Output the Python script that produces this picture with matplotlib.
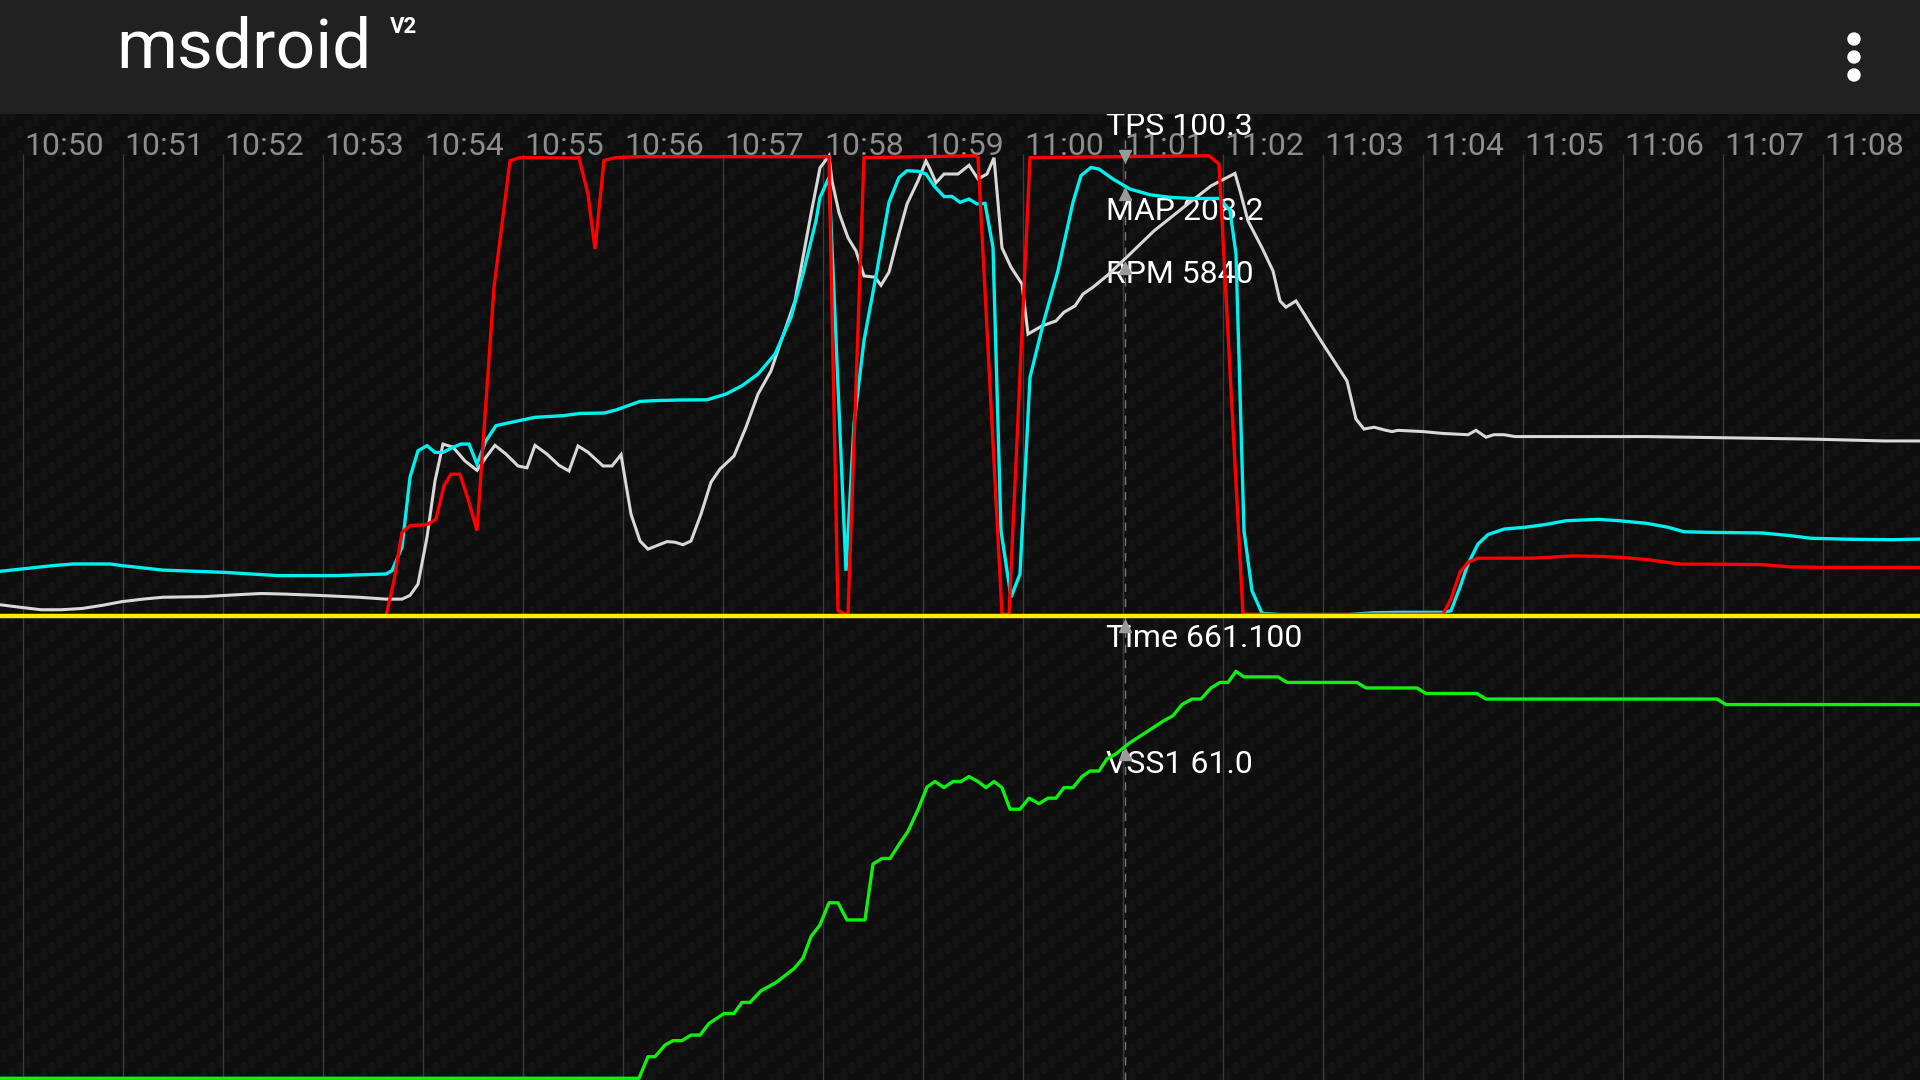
import numpy as np
import matplotlib.pyplot as plt
from matplotlib.patches import Circle

# visible time window (seconds into the log) and grid ticks
t_start, t_end = 649.77, 668.97
tick_secs = list(range(650, 669))
tick_labels = ["10:50", "10:51", "10:52", "10:53", "10:54", "10:55", "10:56",
               "10:57", "10:58", "10:59", "11:00", "11:01", "11:02", "11:03",
               "11:04", "11:05", "11:06", "11:07", "11:08"]

# TPS (%)
tps_t = [649.77, 653.63, 653.71, 653.79, 653.87, 654.04, 654.13, 654.21, 654.28,
         654.37, 654.46, 654.54, 654.71, 654.87, 654.97, 655.52, 655.56, 655.65,
         655.72, 655.81, 655.93, 656.17, 658.06, 658.15, 658.23, 658.25, 658.41,
         659.03, 659.52, 659.55, 659.79, 659.86, 660.07, 661.86, 661.96, 662.20,
         662.57, 664.20, 664.28, 664.37, 664.45, 664.55, 665.10, 665.51, 665.75,
         665.96, 666.24, 666.57, 666.86, 667.39, 667.67, 668.00, 668.97]
tps_v = [0, 0, 7.7, 18.2, 19.7, 19.9, 21.1, 28.4, 30.9,
         30.9, 24.8, 18.6, 71.6, 99.2, 99.9, 99.8, 99.9, 91.9,
         80.0, 99.3, 99.9, 100.1, 100.1, 1.2, 0.3, 0.3, 99.9,
         100.1, 100.3, 99.9, 0.4, 0.3, 99.9, 100.3, 98.5, 0.4,
         0.3, 0.4, 3.7, 9.5, 11.7, 12.6, 12.6, 13.1, 13.0,
         12.8, 12.3, 11.3, 11.3, 11.2, 10.7, 10.6, 10.6]

# MAP (kPa)
map_t = [649.77, 650.30, 650.50, 650.87, 650.99, 651.40, 652.01, 652.55, 653.12,
         653.63, 653.69, 653.79, 653.87, 653.95, 654.04, 654.12, 654.20, 654.30,
         654.38, 654.46, 654.54, 654.63, 654.73, 654.83, 655.12, 655.40, 655.57,
         655.81, 655.93, 656.17, 656.33, 656.58, 656.84, 657.03, 657.19, 657.35,
         657.52, 657.68, 657.80, 657.93, 657.97, 658.06, 658.23, 658.31, 658.41,
         658.54, 658.66, 658.76, 658.84, 658.95, 659.03, 659.11, 659.21, 659.29,
         659.37, 659.46, 659.54, 659.62, 659.70, 659.78, 659.88, 659.97, 660.07,
         660.21, 660.35, 660.50, 660.58, 660.68, 660.76, 660.90, 661.07, 661.27,
         661.48, 661.68, 661.97, 662.07, 662.13, 662.21, 662.29, 662.39, 662.57,
         663.26, 663.51, 663.79, 664.20, 664.28, 664.37, 664.45, 664.55, 664.65,
         664.81, 665.02, 665.22, 665.43, 665.75, 665.96, 666.24, 666.45, 666.61,
         666.86, 667.39, 667.67, 667.88, 668.28, 668.69, 668.97]
map_v = [21.9, 24.7, 25.5, 25.5, 24.7, 22.5, 21.4, 19.8, 19.8,
         20.6, 22.2, 33.7, 68.0, 81.0, 83.5, 80.2, 80.2, 82.7,
         84.3, 84.3, 74.5, 85.9, 93.3, 94.4, 97.4, 98.2, 99.3,
         99.5, 101.0, 105.2, 105.6, 105.9, 106.0, 108.8, 112.9, 118.6,
         128.4, 146.4, 167.6, 193.8, 205.2, 215.0, 22.2, 94.1, 135.0,
         169.3, 202.8, 215.0, 218.3, 218.0, 216.7, 210.9, 205.6, 205.7,
         202.8, 204.4, 202.0, 202.3, 180.7, 41.8, 9.2, 20.6, 117.0,
         144.8, 169.3, 202.8, 215.9, 219.9, 219.1, 214.2, 209.3, 206.5,
         205.2, 204.7, 204.7, 198.7, 177.5, 41.8, 12.4, 1.3, 0.7,
         0.7, 1.6, 1.8, 1.8, 2.6, 14.1, 25.5, 35.3, 39.9,
         42.6, 43.5, 44.8, 46.7, 47.4, 46.7, 45.4, 43.5, 41.3,
         41.0, 40.7, 39.4, 38.1, 37.6, 37.4, 37.7]

# RPM
rpm_t = [649.77, 649.97, 650.18, 650.38, 650.59, 650.79, 650.99, 651.20, 651.40,
         651.81, 652.14, 652.38, 652.63, 652.95, 653.36, 653.63, 653.79, 653.87,
         653.95, 654.04, 654.12, 654.20, 654.30, 654.42, 654.54, 654.63, 654.72,
         654.83, 654.95, 655.04, 655.12, 655.24, 655.36, 655.46, 655.55, 655.65,
         655.80, 655.89, 655.98, 656.08, 656.17, 656.25, 656.33, 656.44, 656.52,
         656.60, 656.68, 656.78, 656.88, 656.97, 657.11, 657.23, 657.35, 657.48,
         657.56, 657.72, 657.88, 657.97, 658.06, 658.09, 658.16, 658.25, 658.33,
         658.41, 658.52, 658.58, 658.66, 658.74, 658.84, 658.95, 659.03, 659.07,
         659.13, 659.21, 659.35, 659.46, 659.55, 659.64, 659.71, 659.79, 659.88,
         659.99, 660.05, 660.19, 660.33, 660.41, 660.52, 660.60, 660.70, 660.86,
         661.07, 661.31, 661.60, 661.88, 662.12, 662.17, 662.25, 662.39, 662.50,
         662.57, 662.63, 662.73, 662.98, 663.24, 663.33, 663.41, 663.51, 663.63,
         663.69, 663.75, 664.00, 664.20, 664.45, 664.53, 664.63, 664.71, 664.81,
         664.92, 665.43, 666.24, 667.06, 667.88, 668.61, 668.97]
rpm_v = [180, 140, 100, 100, 120, 170, 230, 270, 300,
         310, 340, 360, 350, 330, 300, 270, 270, 330,
         510, 1260, 2160, 2750, 2700, 2480, 2330, 2540, 2730,
         2590, 2400, 2370, 2730, 2590, 2410, 2320, 2720, 2620,
         2400, 2400, 2580, 1630, 1200, 1070, 1120, 1190, 1180,
         1140, 1200, 1630, 2140, 2350, 2560, 3020, 3550, 3920,
         4300, 5040, 6430, 7170, 7360, 6960, 6450, 6050, 5840,
         5440, 5420, 5290, 5500, 6000, 6590, 6960, 7280, 7150,
         6930, 7070, 7070, 7210, 6990, 7070, 7330, 5890, 5580,
         5310, 4510, 4640, 4720, 4860, 4960, 5150, 5260, 5470,
         5790, 6160, 6530, 6880, 7080, 6800, 6320, 5890, 5520,
         5040, 4940, 5040, 4400, 3760, 3150, 2990, 3020, 2970,
         2950, 2970, 2950, 2920, 2900, 2970, 2860, 2900, 2900,
         2870, 2870, 2870, 2850, 2830, 2800, 2800]

# VSS1 (speed)
vss_t = [649.77, 656.16, 656.25, 656.32, 656.42, 656.50, 656.59, 656.68, 656.77,
         656.86, 657.01, 657.11, 657.19, 657.27, 657.38, 657.53, 657.71, 657.80,
         657.88, 657.97, 658.06, 658.15, 658.24, 658.42, 658.50, 658.59, 658.67,
         658.77, 658.85, 658.95, 659.04, 659.12, 659.21, 659.30, 659.38, 659.46,
         659.55, 659.63, 659.71, 659.79, 659.87, 659.97, 660.06, 660.16, 660.25,
         660.33, 660.41, 660.50, 660.59, 660.67, 660.76, 660.84, 660.93, 661.06,
         661.24, 661.40, 661.50, 661.59, 661.69, 661.78, 661.88, 661.97, 662.05,
         662.13, 662.21, 662.55, 662.64, 663.34, 663.43, 663.94, 664.03, 664.54,
         664.63, 666.94, 667.03, 668.97]
vss_v = [0, 0, 3.9, 3.9, 6.0, 6.8, 6.8, 7.8, 7.8,
         9.9, 11.7, 11.7, 13.7, 13.7, 15.8, 17.3, 19.8, 21.7,
         25.6, 27.7, 31.7, 31.7, 28.6, 28.6, 38.7, 39.7, 39.7,
         42.5, 44.6, 48.5, 52.6, 53.6, 52.5, 53.6, 53.6, 54.5,
         53.6, 52.5, 53.6, 52.5, 48.6, 48.6, 50.6, 49.6, 50.6,
         50.6, 52.5, 52.5, 54.5, 55.5, 55.5, 57.7, 58.6, 60.5,
         62.6, 64.5, 65.5, 67.5, 68.5, 68.5, 70.5, 71.5, 71.5,
         73.5, 72.5, 72.5, 71.5, 71.5, 70.5, 70.5, 69.5, 69.5,
         68.5, 68.5, 67.5, 67.5]

cursor_t = 661.02
cursor_labels = ["TPS 100.3", "MAP 208.2", "RPM 5840", "Time 661.100", "VSS1 61.0"]

W, H = 1920, 1080
HEADER = 114
DIVIDER = 616
FONT = ["Roboto", "DejaVu Sans"]

fig = plt.figure(figsize=(19.2, 10.8), dpi=100)
fig.patch.set_facecolor("#111111")

# --- carbon fibre background with grid (vertical axis in screen pixels) ---
bg = fig.add_axes([0, 0, 1, (H - HEADER) / H])
yy, xx = np.mgrid[0:H - HEADER, 0:W]
weave = ((xx // 8) + (yy // 6)) % 4 < 2
shade = 1 - np.abs((xx % 8) - 3.5) / 7
tex = 0.045 + 0.04 * weave * shade + 0.012 * (~weave) * (1 - np.abs((yy % 6) - 2.5) / 5)
bg.imshow(tex, cmap="gray", vmin=0, vmax=1, aspect="auto", interpolation="nearest",
          extent=(t_start, t_end, H, HEADER))
bg.set_xlim(t_start, t_end)
bg.set_ylim(H, HEADER)
bg.axis("off")
bg.vlines(tick_secs, 154, H, color="#3a3a3a", lw=1)
for s, lab in zip(tick_secs, tick_labels):
    bg.text(s + 0.015, 155, lab, color="#8e8e8e", fontsize=23, family=FONT,
            ha="left", va="baseline")

# --- top panel: TPS / MAP / RPM each on its own scale ---
top_rect = [0, (H - DIVIDER) / H, 1, (DIVIDER - HEADER) / H]
ax_rpm = fig.add_axes(top_rect)
ax_map = fig.add_axes(top_rect)
ax_tps = fig.add_axes(top_rect)
for ax, lim in ((ax_rpm, 8030), (ax_map, 246.1), (ax_tps, 109.4)):
    ax.set_xlim(t_start, t_end)
    ax.set_ylim(0, lim)
    ax.patch.set_alpha(0)
    ax.axis("off")

ax_rpm.plot(rpm_t, rpm_v, color="#d8d8d8", lw=2.2, solid_joinstyle="miter")
ax_map.plot(map_t, map_v, color="#00f0f0", lw=2.4, solid_joinstyle="miter")
ax_tps.plot(tps_t, tps_v, color="#ff0000", lw=2.4, solid_joinstyle="miter")
ax_tps.axhline(0, color="#ffee00", lw=3.2, clip_on=False, zorder=5)

# --- bottom panel: VSS1 ---
ax_vss = fig.add_axes([0, 0, 1, (H - DIVIDER) / H])
ax_vss.set_xlim(t_start, t_end)
ax_vss.set_ylim(-0.31, 83.5)
ax_vss.patch.set_alpha(0)
ax_vss.axis("off")
ax_vss.plot(vss_t, vss_v, color="#11ee11", lw=2.4)

# --- cursor ---
bg.vlines(cursor_t, 140, H, color="#777777", lw=1, linestyles=(0, (6, 5)))
mk = dict(color="#9a9a9a", markersize=9, clip_on=False, zorder=6)
ax_tps.plot(cursor_t, 100.3, marker="v", **mk)
ax_map.plot(cursor_t, np.interp(cursor_t, map_t, map_v) - 4, marker="^", **mk)
ax_rpm.plot(cursor_t, np.interp(cursor_t, rpm_t, rpm_v) - 150, marker="^", **mk)
ax_tps.plot(cursor_t, -2.2, marker="^", **mk)
ax_vss.plot(cursor_t, np.interp(cursor_t, vss_t, vss_v) - 1.3, marker="^", **mk)

label_y = [135, 220, 283, 647, 773]
for lab, y in zip(cursor_labels, label_y):
    bg.text(cursor_t - 0.19, y, lab, color="white", fontsize=23, family=FONT,
            ha="left", va="baseline", zorder=8)

# --- app header ---
hd = fig.add_axes([0, (H - HEADER) / H, 1, HEADER / H])
hd.set_xlim(0, W)
hd.set_ylim(HEADER, 0)
hd.set_facecolor("#212121")
hd.set_xticks([])
hd.set_yticks([])
for sp in hd.spines.values():
    sp.set_visible(False)
hd.text(116, 68, "msdroid", color="white", fontsize=50, family=FONT,
        ha="left", va="baseline")
hd.text(390, 33, "V2", color="white", fontsize=16, family=FONT, weight="bold",
        ha="left", va="baseline")
for cy in (39, 57, 75):
    hd.add_patch(Circle((1854, cy), 6, color="white"))

fig.savefig("out.png", dpi=100, facecolor=fig.get_facecolor())
